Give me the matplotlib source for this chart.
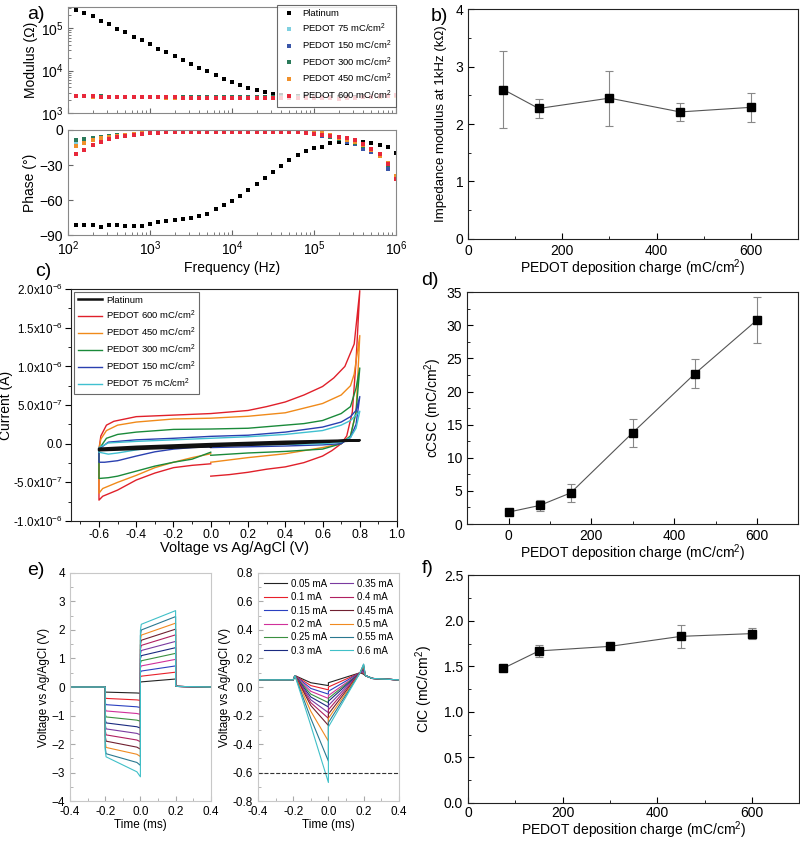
import matplotlib
matplotlib.use('Agg')
import matplotlib.pyplot as plt
from matplotlib.ticker import MultipleLocator, FixedLocator
import numpy as np

plt.rcParams.update({
    'font.family': ['Liberation Sans', 'DejaVu Sans'],
    'mathtext.fontset': 'custom',
    'mathtext.rm': 'Liberation Sans',
    'mathtext.it': 'Liberation Sans:italic',
    'mathtext.bf': 'Liberation Sans:bold',
    'mathtext.default': 'regular',
    'font.size': 10,
    'xtick.direction': 'in',
    'ytick.direction': 'in',
})

# ---------------- data: panel a (impedance spectra) ----------------
freq_hz = [126, 158, 200, 251, 316, 398, 501, 631, 794, 1000,
           1259, 1585, 1995, 2512, 3162, 3981, 5012, 6310, 7943, 10000,
           12589, 15849, 19953, 25119, 31623, 39811, 50119, 63096, 79433, 100000,
           125893, 158489, 199526, 251189, 316228, 398107, 501187, 630957, 794328, 1000000]
mod_pt = [269000, 229000, 191000, 151000, 123000, 97700, 81300, 63100, 51300, 41700,
          33100, 26900, 21900, 17800, 14500, 11700, 9550, 7760, 6460, 5370,
          4570, 3980, 3470, 3090, 2820, 2690, 2570, 2510, 2450, 2400,
          2380, 2370, 2380, 2400, 2420, 2450, 2480, 2500, 2520, 2550]
mod_75 = [2520, 2490, 2460, 2430, 2410, 2390, 2380, 2370, 2360, 2350,
          2340, 2330, 2330, 2320, 2320, 2310, 2310, 2310, 2310, 2310,
          2310, 2310, 2310, 2310, 2310, 2310, 2310, 2310, 2300, 2300,
          2290, 2280, 2260, 2280, 2300, 2340, 2380, 2430, 2480, 2560]
mod_150 = [2540, 2510, 2480, 2450, 2430, 2410, 2400, 2390, 2380, 2370,
           2360, 2350, 2350, 2340, 2340, 2330, 2330, 2330, 2330, 2330,
           2330, 2330, 2330, 2330, 2330, 2330, 2330, 2320, 2320, 2310,
           2300, 2290, 2270, 2290, 2310, 2350, 2390, 2440, 2500, 2580]
mod_300 = [2560, 2530, 2490, 2460, 2440, 2420, 2400, 2390, 2380, 2370,
           2360, 2350, 2350, 2340, 2340, 2330, 2330, 2330, 2330, 2330,
           2330, 2330, 2330, 2330, 2330, 2330, 2330, 2320, 2320, 2310,
           2300, 2280, 2250, 2270, 2300, 2340, 2380, 2430, 2490, 2570]
mod_450 = [2500, 2470, 2440, 2410, 2390, 2370, 2360, 2350, 2340, 2330,
           2320, 2310, 2310, 2300, 2300, 2290, 2290, 2290, 2290, 2290,
           2290, 2290, 2290, 2290, 2290, 2290, 2290, 2280, 2280, 2270,
           2260, 2240, 2120, 2200, 2270, 2330, 2380, 2430, 2490, 2580]
mod_600 = [2500, 2480, 2450, 2420, 2400, 2380, 2370, 2360, 2350, 2340,
           2330, 2320, 2320, 2310, 2310, 2300, 2300, 2300, 2300, 2300,
           2300, 2300, 2300, 2300, 2300, 2300, 2300, 2300, 2300, 2290,
           2280, 2260, 2150, 2230, 2300, 2350, 2400, 2450, 2520, 2620]
ph_pt = [-81.4, -81, -81, -83, -81, -81, -82, -82, -82.5, -80.5,
         -78.5, -77.7, -77, -76.5, -75, -73.7, -72, -68, -64, -61,
         -56.5, -51.7, -46.3, -40.9, -35.7, -30.6, -25.7, -21.7, -18, -15.4,
         -14.9, -11.1, -10.3, -10.9, -9.7, -10, -11.1, -13, -15, -19.5]
ph_75 = [-10, -8.5, -7, -6, -5, -4.5, -4, -3.5, -3, -2.5,
         -2, -2, -2, -1.5, -1.5, -1.5, -1.5, -1.5, -1.5, -1.5,
         -1.5, -1.5, -1.5, -1.5, -1.5, -1.5, -2, -2, -2.5, -3,
         -4, -6, -8, -10, -12, -15, -19, -22, -31, -40]
ph_150 = [-9, -8, -7, -6, -5, -4.5, -4, -3.5, -3, -2.5,
          -2, -2, -2, -1.5, -1.5, -1.5, -1.5, -1.5, -1.5, -1.5,
          -1.5, -1.5, -1.5, -1.5, -1.5, -1.5, -2, -2, -2.5, -3,
          -5, -6, -8, -10, -12, -16, -19, -22, -33, -41]
ph_300 = [-9, -8, -7, -6, -5, -4.5, -4, -3.5, -3, -2.5,
          -2, -2, -2, -1.5, -1.5, -1.5, -1.5, -1.5, -1.5, -1.5,
          -1.5, -1.5, -1.5, -1.5, -1.5, -1.5, -2, -2, -2.5, -3,
          -4, -6, -8, -9, -11, -14, -17, -21, -30, -40]
ph_450 = [-14, -11, -9, -7, -6, -5, -4, -3.5, -3, -2.5,
          -2, -2, -2, -1.5, -1.5, -1.5, -1.5, -1.5, -1.5, -1.5,
          -1.5, -1.5, -1.5, -1.5, -1.5, -1.5, -2, -2, -2.5, -3,
          -2, -4, -7, -9, -10, -13, -17, -22, -28, -39]
ph_600 = [-21, -17, -13, -10, -8, -6, -5, -4, -3.5, -3,
          -2.5, -2, -2, -1.5, -1.5, -1.5, -1.5, -1.5, -1.5, -1.5,
          -1.5, -1.5, -1.5, -1.5, -1.5, -1.5, -2, -2, -2.5, -3.5,
          -4, -5, -6, -7, -9, -12, -16, -21, -29, -42]

# ---------------- data: panels b, d, f ----------------
charge_b = [75, 150, 300, 450, 600]
mod1k_kohm = [2.60, 2.27, 2.45, 2.21, 2.29]
mod1k_err = [0.67, 0.17, 0.48, 0.16, 0.25]

charge_d = [0, 75, 150, 300, 450, 600]
ccsc = [1.8, 2.8, 4.7, 13.8, 22.7, 30.8]
ccsc_err = [0.4, 0.9, 1.4, 2.1, 2.15, 3.4]

charge_f = [75, 150, 300, 450, 600]
cic = [1.48, 1.67, 1.72, 1.83, 1.86]
cic_err = [0.01, 0.065, 0.03, 0.13, 0.06]

# ---------------- data: panel c (CV, current in 1e-6 A) ----------------
cv_pt_V = [0, 0.4, 0.8, 0.4, 0, -0.4, -0.6, -0.6, -0.3, 0]
cv_pt_I = [-0.03, 0.0, 0.045, 0.025, -0.005, -0.04, -0.065, -0.085, -0.06, -0.035]
cv_600_V = [0, 0.1, 0.2, 0.3, 0.4, 0.5, 0.6, 0.65, 0.7, 0.73, 0.76, 0.78, 0.8,
            0.77, 0.72, 0.66, 0.6, 0.5, 0.4, 0.3, 0.2, 0.1, 0, -0.2, -0.4, -0.52, -0.56, -0.59, -0.6,
            -0.6, -0.58, -0.5, -0.4, -0.3, -0.2, -0.1, 0]
cv_600_I = [-0.42, -0.40, -0.37, -0.33, -0.30, -0.245, -0.16, -0.09, 0.0, 0.10, 0.41, 1.07, 1.98,
            1.29, 1.0, 0.85, 0.74, 0.63, 0.54, 0.48, 0.43, 0.41, 0.39, 0.37, 0.35, 0.29, 0.24, 0.10, -0.07,
            -0.73, -0.68, -0.60, -0.47, -0.38, -0.31, -0.28, -0.26]
cv_450_V = [0, 0.2, 0.4, 0.6, 0.7, 0.75, 0.78, 0.8, 0.77, 0.75, 0.7, 0.6, 0.5, 0.4, 0.2, 0,
            -0.2, -0.4, -0.5, -0.56, -0.59, -0.6, -0.6, -0.58, -0.5, -0.4, -0.3, -0.2, -0.1, 0]
cv_450_I = [-0.24, -0.18, -0.13, -0.05, 0.0, 0.1, 0.41, 1.40, 0.9, 0.75, 0.63, 0.52, 0.46, 0.40, 0.355, 0.33,
            0.32, 0.28, 0.24, 0.17, 0.06, -0.07, -0.64, -0.58, -0.50, -0.41, -0.31, -0.24, -0.18, -0.13]
cv_300_V = [0, 0.2, 0.4, 0.6, 0.7, 0.75, 0.78, 0.8, 0.78, 0.75, 0.7, 0.6, 0.5, 0.4, 0.2, 0,
            -0.2, -0.4, -0.5, -0.56, -0.6, -0.6, -0.55, -0.5, -0.4, -0.3, -0.2, -0.1, 0]
cv_300_I = [-0.15, -0.12, -0.10, -0.07, 0.0, 0.10, 0.41, 0.98, 0.72, 0.48, 0.39, 0.30, 0.26, 0.24, 0.20, 0.19,
            0.185, 0.15, 0.12, 0.07, -0.07, -0.45, -0.44, -0.42, -0.355, -0.29, -0.24, -0.20, -0.11]
cv_150_V = [0, 0.2, 0.4, 0.6, 0.7, 0.75, 0.78, 0.8, 0.78, 0.75, 0.7, 0.6, 0.4, 0.2, 0,
            -0.2, -0.4, -0.55, -0.6, -0.6, -0.57, -0.5, -0.4, -0.3, -0.2, -0.1, 0]
cv_150_I = [-0.05, -0.04, -0.03, -0.015, 0.0, 0.08, 0.25, 0.61, 0.43, 0.35, 0.28, 0.215, 0.15, 0.11, 0.095,
            0.07, 0.05, 0.02, -0.07, -0.24, -0.24, -0.22, -0.16, -0.105, -0.07, -0.05, -0.04]
cv_75_V = [0, 0.4, 0.6, 0.7, 0.75, 0.78, 0.8, 0.75, 0.7, 0.6, 0.4, 0.2, 0,
           -0.2, -0.4, -0.55, -0.6, -0.6, -0.55, -0.5, -0.4, -0.3, -0.2, 0]
cv_75_I = [-0.02, -0.01, 0.0, 0.02, 0.08, 0.2, 0.42, 0.30, 0.24, 0.17, 0.12, 0.09, 0.07,
           0.05, 0.03, 0.01, -0.05, -0.11, -0.135, -0.12, -0.08, -0.05, -0.03, -0.01]
cv_ytick_labels = ['-1.0x10$^{-6}$', '-5.0x10$^{-7}$', '0.0', '5.0x10$^{-7}$',
                   '1.0x10$^{-6}$', '1.5x10$^{-6}$', '2.0x10$^{-6}$']

# ---------------- data: panel e (voltage transients) ----------------
pulse_labels = ['0.05 mA', '0.1 mA', '0.15 mA', '0.2 mA', '0.25 mA', '0.3 mA',
                '0.35 mA', '0.4 mA', '0.45 mA', '0.5 mA', '0.55 mA', '0.6 mA']
neg_start = [-0.18, -0.40, -0.62, -0.84, -1.05, -1.26, -1.47, -1.68, -1.90, -2.12, -2.34, -2.45]
neg_end = [-0.22, -0.47, -0.72, -0.96, -1.20, -1.44, -1.68, -1.92, -2.18, -2.44, -2.75, -3.15]
pos_start = [0.18, 0.38, 0.56, 0.74, 0.92, 1.10, 1.28, 1.46, 1.64, 1.82, 2.0, 2.2]
pos_end = [0.28, 0.52, 0.74, 0.97, 1.18, 1.38, 1.60, 1.83, 2.03, 2.24, 2.47, 2.68]
r_mid = [0.03, 0.01, -0.01, -0.03, -0.05, -0.07, -0.09, -0.11, -0.13, -0.17, -0.22, -0.27]
r_min = [0.01, -0.02, -0.05, -0.08, -0.11, -0.14, -0.18, -0.22, -0.27, -0.38, -0.52, -0.67]
r_jump = [0.03, 0.0, -0.03, -0.06, -0.08, -0.10, -0.13, -0.16, -0.19, -0.22, -0.25, -0.28]
r_peak = [0.09, 0.10, 0.11, 0.12, 0.13, 0.13, 0.14, 0.14, 0.15, 0.15, 0.16, 0.16]
pulse_colors = ['#222222', '#e8202a', '#2a40c0', '#d0309a', '#3a9040', '#1a2a80',
                '#7a3aa0', '#b02060', '#702030', '#f08a20', '#2a7890', '#40c0c8']

# ---------------- figure ----------------
fig = plt.figure(figsize=(8, 8.43), dpi=100)

# panel a
col_a = {'Platinum': 'black', '75': '#7fd0e0', '150': '#3a56a8', '300': '#2a7a5a',
         '450': '#f0902a', '600': '#e8283a'}
axm = fig.add_axes([0.085, 0.866, 0.41, 0.126])
axp = fig.add_axes([0.085, 0.7212, 0.41, 0.1246])
mods = [('Platinum', mod_pt, ph_pt, 'Platinum'),
        ('75', mod_75, ph_75, 'PEDOT 75 mC/cm$^2$'),
        ('150', mod_150, ph_150, 'PEDOT 150 mC/cm$^2$'),
        ('300', mod_300, ph_300, 'PEDOT 300 mC/cm$^2$'),
        ('450', mod_450, ph_450, 'PEDOT 450 mC/cm$^2$'),
        ('600', mod_600, ph_600, 'PEDOT 600 mC/cm$^2$')]
for key, m, p, lab in mods:
    axm.plot(freq_hz, m, 's', ms=2.6, color=col_a[key], ls='none', label=lab, mew=0)
    axp.plot(freq_hz, p, 's', ms=2.6, color=col_a[key], ls='none', mew=0)
for ax in (axm, axp):
    ax.set_xscale('log')
    ax.set_xlim(1e2, 1e6)
    for s in ax.spines.values():
        s.set_color('#888888')
    ax.tick_params(which='both', color='#666666', labelsize=10)
axm.set_yscale('log')
axm.set_ylim(1e3, 3.2e5)
axm.tick_params(labelbottom=False)
axm.set_ylabel('Modulus (Ω)', fontsize=10, labelpad=2)
axp.set_ylim(-90, 0)
axp.set_yticks([-90, -60, -30, 0])
axp.set_ylabel('Phase (°)', fontsize=10, labelpad=2)
axp.set_xlabel('Frequency (Hz)', fontsize=10, labelpad=2)
leg = axm.legend(loc='upper right', bbox_to_anchor=(1.0, 1.02), fontsize=6.8, frameon=True,
                 fancybox=False, edgecolor='#444444', borderaxespad=0, handletextpad=0.6,
                 labelspacing=0.38, markerscale=1.0, handlelength=1.6, borderpad=0.45)
leg.get_frame().set_linewidth(0.8)
fig.text(0.034, 0.977, 'a)', fontsize=14)

def style_bdf(ax):
    ax.tick_params(which='both', top=False, right=False, labelsize=10)
    ax.tick_params(which='major', length=4)
    ax.tick_params(which='minor', length=2.5)
    for s in ax.spines.values():
        s.set_color('#222222')

# panel b
axb = fig.add_axes([0.585, 0.7165, 0.4125, 0.2728])
axb.errorbar(charge_b, mod1k_kohm, yerr=mod1k_err, fmt='s', color='black', ms=6,
             ecolor='#888888', elinewidth=0.8, capsize=3, capthick=0.8, zorder=3)
axb.plot(charge_b, mod1k_kohm, '-', color='#555555', lw=0.8, zorder=2)
axb.set_xlim(0, 700)
axb.set_ylim(0, 4)
axb.xaxis.set_major_locator(FixedLocator([0, 200, 400, 600]))
axb.xaxis.set_minor_locator(MultipleLocator(100))
axb.yaxis.set_major_locator(MultipleLocator(1))
axb.yaxis.set_minor_locator(MultipleLocator(0.5))
axb.set_ylabel('Impedance modulus at 1kHz (kΩ)', fontsize=9.5, labelpad=6)
axb.set_xlabel('PEDOT deposition charge (mC/cm$^2$)', fontsize=10, labelpad=0)
style_bdf(axb)
fig.text(0.538, 0.975, 'b)', fontsize=14)

# panel c
axc = fig.add_axes([0.0888, 0.382, 0.4075, 0.275])
cv_sets = [(cv_600_V, cv_600_I, '#e0202a', 'PEDOT 600 mC/cm$^2$'),
           (cv_450_V, cv_450_I, '#f08a1a', 'PEDOT 450 mC/cm$^2$'),
           (cv_300_V, cv_300_I, '#1a8a3a', 'PEDOT 300 mC/cm$^2$'),
           (cv_150_V, cv_150_I, '#2a40b0', 'PEDOT 150 mC/cm$^2$'),
           (cv_75_V, cv_75_I, '#40c0d0', 'PEDOT 75 mC/cm$^2$')]
h_pt, = axc.plot(cv_pt_V, cv_pt_I, '-', color='#111111', lw=1.8, zorder=5, label='Platinum')
handles = [h_pt]
for v, i, c, lab in cv_sets:
    h, = axc.plot(v, i, '-', color=c, lw=1.0, label=lab)
    handles.append(h)
axc.set_xlim(-0.75, 1.0)
axc.set_ylim(-1.0, 2.0)
axc.xaxis.set_minor_locator(MultipleLocator(0.1))
axc.set_xticks([-0.6, -0.4, -0.2, 0.0, 0.2, 0.4, 0.6, 0.8, 1.0])
axc.set_xticklabels(['-0.6', '-0.4', '-0.2', '0.0', '0.2', '0.4', '0.6', '0.8', '1.0'])
axc.set_yticks([-1.0, -0.5, 0.0, 0.5, 1.0, 1.5, 2.0])
axc.set_yticklabels(cv_ytick_labels)
axc.yaxis.set_minor_locator(MultipleLocator(0.25))
axc.tick_params(which='both', direction='out', top=False, right=False, labelsize=8.8, pad=2)
axc.tick_params(axis='y', which='major', labelsize=8.4)
axc.tick_params(which='major', length=4)
axc.tick_params(which='minor', length=2.5)
axc.set_ylabel('Current (A)', fontsize=10, labelpad=0)
axc.set_xlabel('Voltage vs Ag/AgCl (V)', fontsize=10.5, labelpad=0)
for s in axc.spines.values():
    s.set_color('#222222')
legc = axc.legend(handles=handles, loc='upper left', fontsize=6.8, frameon=True, fancybox=False,
                  edgecolor='#444444', borderaxespad=0.3, handlelength=2.6, labelspacing=0.4,
                  handletextpad=0.4, borderpad=0.4)
legc.get_frame().set_linewidth(0.8)
fig.text(0.044, 0.673, 'c)', fontsize=14)

# panel d
axd = fig.add_axes([0.584, 0.3784, 0.414, 0.275])
axd.errorbar(charge_d, ccsc, yerr=ccsc_err, fmt='s', color='black', ms=6,
             ecolor='#888888', elinewidth=0.8, capsize=3, capthick=0.8, zorder=3)
axd.plot(charge_d, ccsc, '-', color='#555555', lw=0.8, zorder=2)
axd.set_xlim(-100, 700)
axd.set_ylim(0, 35)
axd.xaxis.set_major_locator(FixedLocator([0, 200, 400, 600]))
axd.xaxis.set_minor_locator(MultipleLocator(100))
axd.yaxis.set_major_locator(MultipleLocator(5))
axd.yaxis.set_minor_locator(MultipleLocator(2.5))
axd.set_ylabel('cCSC (mC/cm$^2$)', fontsize=10, labelpad=2)
axd.set_xlabel('PEDOT deposition charge (mC/cm$^2$)', fontsize=10, labelpad=0)
style_bdf(axd)
fig.text(0.527, 0.662, 'd)', fontsize=14)

# panel e
axe1 = fig.add_axes([0.0875, 0.0498, 0.176, 0.2705])
axe2 = fig.add_axes([0.3225, 0.0498, 0.176, 0.2705])
for k in range(len(pulse_labels)):
    tl = [-0.4, -0.2, -0.2, -0.195, -0.02, 0.0, 0.0, 0.005, 0.2, 0.2, 0.21, 0.4]
    vl = [0.0, 0.0, neg_start[k] * 0.9, neg_start[k],
          neg_start[k] + (neg_end[k] - neg_start[k]) * 0.75, neg_end[k],
          pos_start[k] * 0.9, pos_start[k], pos_end[k], 0.05, 0.02, 0.0]
    axe1.plot(tl, vl, '-', color=pulse_colors[k], lw=0.8)
    tr = [-0.4, -0.2, -0.19, -0.1, 0.0, 0.0, 0.18, 0.2, 0.21, 0.25, 0.4]
    vr = [0.05, 0.05, 0.08, r_mid[k], r_min[k], r_jump[k], 0.1, r_peak[k], 0.08, 0.06, 0.05]
    axe2.plot(tr, vr, '-', color=pulse_colors[k], lw=0.8, label=pulse_labels[k])
axe2.plot([-0.4, 0.4], [-0.6, -0.6], '--', color='#333333', lw=0.8)
for ax in (axe1, axe2):
    ax.set_xlim(-0.4, 0.4)
    ax.set_xticks([-0.4, -0.2, 0.0, 0.2, 0.4])
    ax.set_xticklabels(['-0.4', '-0.2', '0.0', '0.2', '0.4'])
    ax.xaxis.set_minor_locator(MultipleLocator(0.1))
    ax.set_xlabel('Time (ms)', fontsize=8.5, labelpad=1)
    ax.set_ylabel('Voltage vs Ag/AgCl (V)', fontsize=8.5, labelpad=1)
    ax.tick_params(which='both', labelsize=8.5, color='#aaaaaa', top=False, right=False)
    ax.tick_params(which='minor', length=2)
    for s in ax.spines.values():
        s.set_color('#c8c8c8')
axe1.set_ylim(-4, 4)
axe1.yaxis.set_major_locator(MultipleLocator(1))
axe1.yaxis.set_minor_locator(MultipleLocator(0.5))
axe2.set_ylim(-0.8, 0.8)
axe2.set_yticks([-0.8, -0.6, -0.4, -0.2, 0.0, 0.2, 0.4, 0.6, 0.8])
axe2.set_yticklabels(['-0.8', '-0.6', '-0.4', '-0.2', '0.0', '0.2', '0.4', '0.6', '0.8'])
axe2.yaxis.set_minor_locator(MultipleLocator(0.1))
axe2.legend(loc='upper center', ncol=2, fontsize=7, frameon=False, handlelength=2.4,
            columnspacing=0.3, handletextpad=0.4, labelspacing=0.35, borderaxespad=0.2)
fig.text(0.034, 0.318, 'e)', fontsize=14)

# panel f
axf = fig.add_axes([0.585, 0.0475, 0.414, 0.270])
axf.errorbar(charge_f, cic, yerr=cic_err, fmt='s', color='black', ms=6,
             ecolor='#888888', elinewidth=0.8, capsize=3, capthick=0.8, zorder=3)
axf.plot(charge_f, cic, '-', color='#555555', lw=0.8, zorder=2)
axf.set_xlim(0, 700)
axf.set_ylim(0, 2.5)
axf.xaxis.set_major_locator(FixedLocator([0, 200, 400, 600]))
axf.xaxis.set_minor_locator(MultipleLocator(100))
axf.yaxis.set_major_locator(MultipleLocator(0.5))
axf.yaxis.set_minor_locator(MultipleLocator(0.25))
axf.set_ylabel('CIC (mC/cm$^2$)', fontsize=10, labelpad=6)
style_bdf(axf)
axf.tick_params(axis='x', which='major', pad=2)
axf.set_xlabel('PEDOT deposition charge (mC/cm$^2$)', fontsize=10, labelpad=0)
fig.text(0.527, 0.32, 'f)', fontsize=14)

fig.savefig('out.png', dpi=100)
